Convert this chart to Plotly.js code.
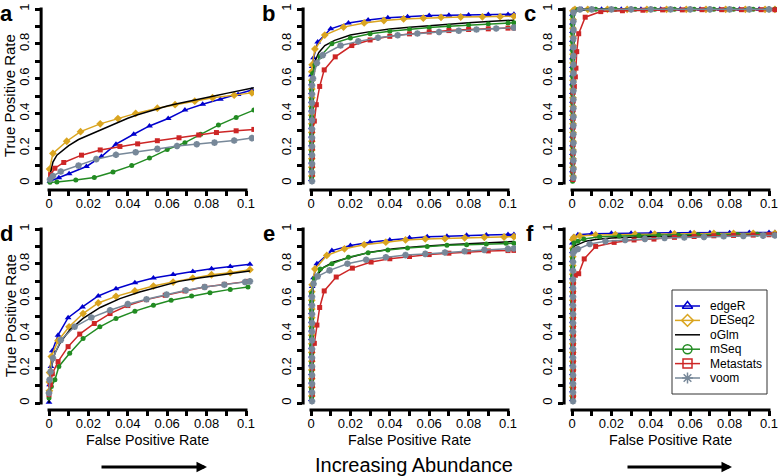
<!DOCTYPE html>
<html><head><meta charset="utf-8">
<script src="https://cdn.plot.ly/plotly-3.0.1.min.js"></script>
<style>html,body{margin:0;padding:0;background:#fff}#chart{width:778px;height:476px}</style>
</head><body><div id="chart"></div>
<script>
// ---------- series meta ----------
const seriesNames = ['edgeR','DESeq2','oGlm','mSeq','Metastats','voom'];
const seriesColors = ['#0000CD','#DAA520','#000000','#228B22','#CD2626','#778899'];
const plotSymbols = ['triangle-up','diamond',null,'circle','square','asterisk-open'];
const legendSymbols = ['triangle-up-open','diamond-open',null,'circle-open','square-open','asterisk-open'];
const panelLetters = ['a','b','c','d','e','f'];

// ---------- panel a ----------
const a_edgeR_fpr = [0.0005,0.005,0.0102,0.019,0.0266,0.034,0.043,0.051,0.0605,0.069,0.078,0.087,0.096,0.103];
const a_edgeR_tpr = [0.01,0.03,0.053,0.095,0.152,0.223,0.28,0.328,0.371,0.419,0.453,0.482,0.508,0.535];
const a_DESeq2_fpr = [0.0003,0.002,0.009,0.016,0.026,0.035,0.044,0.055,0.064,0.074,0.083,0.094,0.103];
const a_DESeq2_tpr = [0.08,0.17,0.24,0.295,0.34,0.37,0.40,0.43,0.45,0.47,0.49,0.505,0.518];
const a_oGlm_fpr = [0.0008,0.002,0.004,0.007,0.01,0.015,0.02,0.025,0.03,0.035,0.04,0.045,0.05,0.055,0.06,0.065,0.07,0.075,0.08,0.085,0.09,0.095,0.1,0.104];
const a_oGlm_tpr = [0.06,0.12,0.16,0.19,0.215,0.25,0.275,0.30,0.325,0.35,0.372,0.392,0.41,0.427,0.442,0.455,0.468,0.48,0.492,0.503,0.515,0.527,0.538,0.547];
const a_mSeq_fpr = [0.0005,0.004,0.0136,0.023,0.0325,0.042,0.051,0.06,0.069,0.077,0.086,0.095,0.104];
const a_mSeq_tpr = [0.004,0.006,0.017,0.032,0.063,0.10,0.143,0.192,0.232,0.28,0.333,0.377,0.419];
const a_Metastats_fpr = [0.0008,0.003,0.0075,0.0165,0.026,0.036,0.045,0.055,0.066,0.076,0.085,0.095,0.104];
const a_Metastats_tpr = [0.048,0.085,0.118,0.16,0.19,0.21,0.225,0.243,0.26,0.276,0.29,0.30,0.308];
const a_voom_fpr = [0.0005,0.002,0.006,0.015,0.024,0.034,0.044,0.055,0.065,0.075,0.084,0.094,0.103];
const a_voom_tpr = [0.02,0.04,0.066,0.10,0.137,0.162,0.177,0.196,0.213,0.223,0.232,0.244,0.258];

// ---------- panel b ----------
const b_edgeR_fpr = [0.0002,0.0002,0.0002,0.0002,0.0002,0.0002,0.0002,0.0002,0.0002,0.0002,0.0002,0.0002,0.0002,0.0006,0.0013,0.0034,0.01,0.019,0.029,0.039,0.049,0.06,0.07,0.08,0.09,0.1,0.103];
const b_edgeR_tpr = [0.02,0.07,0.12,0.17,0.22,0.27,0.32,0.37,0.42,0.47,0.52,0.57,0.62,0.67,0.72,0.81,0.886,0.92,0.937,0.949,0.956,0.962,0.964,0.966,0.968,0.969,0.97];
const b_DESeq2_fpr = [0.0004,0.0004,0.0004,0.0004,0.0004,0.0004,0.0004,0.0004,0.0004,0.0004,0.0004,0.0004,0.0004,0.0006,0.002,0.007,0.0165,0.027,0.037,0.047,0.057,0.066,0.076,0.087,0.096,0.103];
const b_DESeq2_tpr = [0.04,0.09,0.14,0.19,0.24,0.29,0.34,0.39,0.44,0.49,0.54,0.59,0.64,0.68,0.77,0.85,0.896,0.92,0.934,0.943,0.947,0.952,0.954,0.955,0.956,0.958];
const b_oGlm_fpr = [0,0.0002,0.0005,0.001,0.002,0.004,0.007,0.012,0.02,0.03,0.04,0.05,0.06,0.07,0.08,0.09,0.1,0.103];
const b_oGlm_tpr = [0,0.3,0.52,0.62,0.7,0.75,0.79,0.82,0.85,0.87,0.885,0.895,0.905,0.914,0.921,0.928,0.934,0.936];
const b_mSeq_fpr = [0.0003,0.0003,0.0003,0.0003,0.0003,0.0003,0.0003,0.0003,0.0003,0.0003,0.0003,0.0003,0.0008,0.002,0.0045,0.0106,0.02,0.03,0.04,0.05,0.06,0.07,0.08,0.09,0.1,0.103];
const b_mSeq_tpr = [0.03,0.08,0.13,0.18,0.23,0.28,0.33,0.38,0.43,0.48,0.53,0.58,0.63,0.68,0.725,0.8,0.833,0.858,0.872,0.884,0.893,0.901,0.908,0.914,0.92,0.921];
const b_Metastats_fpr = [0.0007,0.0007,0.0007,0.0007,0.0007,0.0007,0.0017,0.0027,0.0044,0.0067,0.0123,0.0207,0.03,0.04,0.05,0.06,0.07,0.08,0.09,0.1,0.103];
const b_Metastats_tpr = [0.05,0.1,0.15,0.2,0.25,0.3,0.356,0.45,0.555,0.65,0.725,0.79,0.822,0.843,0.857,0.868,0.876,0.882,0.886,0.89,0.891];
const b_voom_fpr = [0.0005,0.0005,0.0005,0.0005,0.0005,0.0005,0.0005,0.0005,0.0005,0.0005,0.0005,0.0005,0.001,0.003,0.006,0.015,0.024,0.034,0.044,0.054,0.065,0.075,0.084,0.094,0.103];
const b_voom_tpr = [0.01,0.06,0.11,0.16,0.21,0.26,0.31,0.36,0.41,0.46,0.51,0.56,0.6,0.69,0.735,0.79,0.814,0.835,0.849,0.859,0.868,0.875,0.882,0.888,0.893];

// ---------- panel c ----------
const c_edgeR_fpr = [0.0002,0.0002,0.0002,0.0002,0.0002,0.0002,0.0002,0.0002,0.0002,0.0002,0.0002,0.0002,0.0002,0.0002,0.0002,0.0002,0.0002,0.0002,0.0002,0.0002,0.001,0.005,0.015,0.025,0.035,0.045,0.055,0.065,0.075,0.085,0.095,0.103];
const c_edgeR_tpr = [0.02,0.07,0.12,0.17,0.22,0.27,0.32,0.37,0.42,0.47,0.52,0.57,0.62,0.67,0.72,0.77,0.82,0.87,0.92,0.97,0.997,0.998,0.998,0.998,0.998,0.998,0.998,0.998,0.998,0.998,0.998,0.998];
const c_DESeq2_fpr = [0.0005,0.0005,0.0005,0.0005,0.0005,0.0005,0.0005,0.0005,0.0005,0.0005,0.0005,0.0005,0.0005,0.0005,0.0005,0.0005,0.0005,0.0005,0.0005,0.0005,0.0015,0.008,0.018,0.028,0.038,0.048,0.058,0.068,0.078,0.088,0.098,0.103];
const c_DESeq2_tpr = [0.04,0.09,0.14,0.19,0.24,0.29,0.34,0.39,0.44,0.49,0.54,0.59,0.64,0.69,0.74,0.79,0.84,0.89,0.94,0.99,0.997,0.998,0.998,0.998,0.998,0.998,0.998,0.998,0.998,0.998,0.998,0.998];
const c_oGlm_fpr = [0,0.0003,0.001,0.003,0.01,0.05,0.103];
const c_oGlm_tpr = [0,0.9,0.99,0.996,0.998,0.998,0.998];
const c_mSeq_fpr = [0.0003,0.0003,0.0003,0.0003,0.0003,0.0003,0.0003,0.0003,0.0003,0.0003,0.0003,0.0003,0.0003,0.0003,0.0003,0.0003,0.0003,0.0003,0.0003,0.0003,0.003,0.012,0.022,0.032,0.042,0.052,0.062,0.072,0.082,0.092,0.103];
const c_mSeq_tpr = [0.01,0.06,0.11,0.16,0.21,0.26,0.31,0.36,0.41,0.46,0.51,0.56,0.61,0.66,0.71,0.76,0.81,0.86,0.91,0.96,0.997,0.998,0.998,0.998,0.998,0.998,0.998,0.998,0.998,0.998,0.998];
const c_Metastats_fpr = [0.0005,0.0005,0.0005,0.0005,0.0005,0.0005,0.0005,0.0005,0.0005,0.0005,0.0005,0.0012,0.0017,0.002,0.0024,0.0034,0.0067,0.0146,0.0256,0.036,0.046,0.056,0.066,0.076,0.086,0.096,0.103];
const c_Metastats_tpr = [0.02,0.07,0.12,0.17,0.22,0.27,0.32,0.37,0.42,0.47,0.52,0.555,0.61,0.66,0.755,0.858,0.953,0.985,0.99,0.993,0.995,0.995,0.996,0.996,0.996,0.996,0.996];
const c_voom_fpr = [0.0007,0.0007,0.0007,0.0007,0.0007,0.0007,0.0007,0.0007,0.0007,0.0007,0.0007,0.0007,0.0007,0.0007,0.0007,0.0007,0.0007,0.0007,0.0007,0.0007,0.004,0.01,0.02,0.03,0.04,0.05,0.06,0.07,0.08,0.09,0.1];
const c_voom_tpr = [0.03,0.08,0.13,0.18,0.23,0.28,0.33,0.38,0.43,0.48,0.53,0.58,0.63,0.68,0.73,0.78,0.83,0.88,0.93,0.98,0.997,0.998,0.998,0.998,0.998,0.998,0.998,0.998,0.998,0.998,0.998];

// ---------- panel d ----------
const d_edgeR_fpr = [0,0.0003,0.001,0.0017,0.0046,0.0097,0.017,0.025,0.034,0.0436,0.053,0.063,0.073,0.0825,0.092,0.102];
const d_edgeR_tpr = [0.005,0.105,0.21,0.3,0.39,0.49,0.552,0.615,0.657,0.691,0.718,0.739,0.756,0.771,0.785,0.798];
const d_DESeq2_fpr = [0.0002,0.0002,0.0003,0.0012,0.0046,0.0102,0.0173,0.025,0.034,0.0436,0.053,0.063,0.073,0.0825,0.092,0.102];
const d_DESeq2_tpr = [0.07,0.12,0.175,0.267,0.358,0.438,0.514,0.575,0.613,0.644,0.672,0.695,0.718,0.737,0.749,0.766];
const d_oGlm_fpr = [0,0.0004,0.0008,0.003,0.006,0.0105,0.0173,0.026,0.036,0.046,0.056,0.066,0.077,0.087,0.1,0.102];
const d_oGlm_tpr = [0,0.095,0.19,0.286,0.352,0.419,0.486,0.549,0.6,0.638,0.67,0.699,0.72,0.737,0.756,0.758];
const d_mSeq_fpr = [0,0.0012,0.003,0.005,0.0105,0.0173,0.0258,0.034,0.0436,0.053,0.062,0.0724,0.0817,0.092,0.101];
const d_mSeq_tpr = [0.029,0.095,0.133,0.21,0.286,0.371,0.438,0.486,0.528,0.562,0.59,0.615,0.634,0.653,0.667];
const d_Metastats_fpr = [0,0.0007,0.0017,0.0046,0.0097,0.0156,0.023,0.031,0.04,0.0495,0.059,0.069,0.079,0.089,0.101];
const d_Metastats_tpr = [0.048,0.105,0.168,0.238,0.324,0.396,0.457,0.514,0.56,0.594,0.619,0.644,0.667,0.682,0.699];
const d_voom_fpr = [0,0.0003,0.0008,0.002,0.006,0.013,0.0215,0.031,0.04,0.0495,0.0597,0.0695,0.079,0.089,0.0995,0.102];
const d_voom_tpr = [0.057,0.133,0.18,0.257,0.362,0.438,0.491,0.533,0.568,0.596,0.623,0.648,0.667,0.68,0.695,0.699];

// ---------- panel e ----------
const e_edgeR_fpr = [0.0002,0.0002,0.0002,0.0002,0.0002,0.0002,0.0002,0.0002,0.0002,0.0002,0.0002,0.0002,0.0002,0.0006,0.0013,0.003,0.0106,0.02,0.03,0.04,0.05,0.059,0.069,0.079,0.089,0.1,0.103];
const e_edgeR_tpr = [0.02,0.07,0.12,0.17,0.22,0.27,0.32,0.37,0.42,0.47,0.52,0.57,0.62,0.67,0.72,0.80,0.876,0.905,0.924,0.937,0.949,0.956,0.958,0.964,0.966,0.968,0.968];
const e_DESeq2_fpr = [0.0004,0.0004,0.0004,0.0004,0.0004,0.0004,0.0004,0.0004,0.0004,0.0004,0.0004,0.0004,0.0004,0.0006,0.002,0.008,0.017,0.027,0.038,0.048,0.058,0.068,0.078,0.088,0.098,0.103];
const e_DESeq2_tpr = [0.04,0.09,0.14,0.19,0.24,0.29,0.34,0.39,0.44,0.49,0.54,0.59,0.64,0.68,0.77,0.848,0.886,0.91,0.924,0.937,0.943,0.945,0.949,0.952,0.954,0.956];
const e_oGlm_fpr = [0,0.0002,0.0005,0.001,0.002,0.0064,0.0115,0.02,0.03,0.042,0.055,0.069,0.082,0.096,0.103];
const e_oGlm_tpr = [0,0.3,0.55,0.65,0.72,0.78,0.81,0.838,0.867,0.886,0.9,0.91,0.918,0.924,0.928];
const e_mSeq_fpr = [0.0003,0.0003,0.0003,0.0003,0.0003,0.0003,0.0003,0.0003,0.0003,0.0003,0.0003,0.0003,0.0003,0.0017,0.0047,0.0106,0.019,0.029,0.039,0.049,0.059,0.069,0.079,0.089,0.099,0.103];
const e_mSeq_tpr = [0.03,0.08,0.13,0.18,0.23,0.28,0.33,0.38,0.43,0.48,0.53,0.58,0.63,0.714,0.77,0.8,0.838,0.863,0.88,0.891,0.9,0.907,0.91,0.914,0.918,0.918];
const e_Metastats_fpr = [0.0007,0.0007,0.0007,0.0007,0.0007,0.0007,0.0017,0.003,0.0044,0.0067,0.0128,0.021,0.0305,0.04,0.05,0.06,0.07,0.08,0.09,0.1,0.103];
const e_Metastats_tpr = [0.05,0.1,0.15,0.2,0.25,0.3,0.343,0.448,0.549,0.644,0.724,0.775,0.81,0.829,0.842,0.853,0.861,0.869,0.874,0.876,0.877];
const e_voom_fpr = [0.0005,0.0005,0.0005,0.0005,0.0005,0.0005,0.0005,0.0005,0.0005,0.0005,0.0005,0.0005,0.0005,0.0013,0.0034,0.0094,0.0185,0.028,0.038,0.048,0.058,0.068,0.078,0.088,0.1,0.103];
const e_voom_tpr = [0.01,0.06,0.11,0.16,0.21,0.26,0.31,0.36,0.41,0.46,0.51,0.56,0.61,0.686,0.728,0.762,0.8,0.823,0.838,0.85,0.857,0.865,0.872,0.88,0.886,0.888];

// ---------- panel f ----------
const f_edgeR_fpr = [0.0002,0.0002,0.0002,0.0002,0.0002,0.0002,0.0002,0.0002,0.0002,0.0002,0.0002,0.0002,0.0002,0.0002,0.0002,0.0002,0.0002,0.0002,0.0002,0.0008,0.003,0.01,0.02,0.03,0.04,0.05,0.06,0.07,0.08,0.09,0.1,0.103];
const f_edgeR_tpr = [0.02,0.07,0.12,0.17,0.22,0.27,0.32,0.37,0.42,0.47,0.52,0.57,0.62,0.67,0.72,0.77,0.82,0.87,0.92,0.955,0.967,0.972,0.975,0.976,0.977,0.978,0.978,0.979,0.979,0.98,0.98,0.98];
const f_DESeq2_fpr = [0.0004,0.0004,0.0004,0.0004,0.0004,0.0004,0.0004,0.0004,0.0004,0.0004,0.0004,0.0004,0.0004,0.0004,0.0004,0.0004,0.0004,0.0004,0.0004,0.001,0.004,0.012,0.022,0.032,0.042,0.052,0.062,0.072,0.082,0.092,0.103];
const f_DESeq2_tpr = [0.04,0.09,0.14,0.19,0.24,0.29,0.34,0.39,0.44,0.49,0.54,0.59,0.64,0.69,0.74,0.79,0.84,0.89,0.94,0.952,0.96,0.966,0.968,0.97,0.971,0.972,0.973,0.974,0.974,0.975,0.975];
const f_oGlm_fpr = [0,0.0003,0.0008,0.002,0.004,0.007,0.012,0.02,0.03,0.045,0.06,0.08,0.1,0.103];
const f_oGlm_tpr = [0,0.85,0.9,0.905,0.915,0.93,0.94,0.948,0.953,0.958,0.962,0.965,0.968,0.968];
const f_mSeq_fpr = [0.0003,0.0003,0.0003,0.0003,0.0003,0.0003,0.0003,0.0003,0.0003,0.0003,0.0003,0.0003,0.0003,0.0003,0.0003,0.0003,0.0003,0.0003,0.001,0.003,0.006,0.014,0.024,0.034,0.044,0.054,0.064,0.074,0.084,0.094,0.103];
const f_mSeq_tpr = [0.03,0.08,0.13,0.18,0.23,0.28,0.33,0.38,0.43,0.48,0.53,0.58,0.63,0.68,0.73,0.78,0.83,0.88,0.92,0.93,0.942,0.955,0.96,0.963,0.965,0.966,0.967,0.968,0.969,0.97,0.97];
const f_Metastats_fpr = [0.0007,0.0007,0.0007,0.0007,0.0007,0.0007,0.0007,0.0007,0.0007,0.0007,0.0007,0.0007,0.0007,0.0007,0.0017,0.0034,0.0062,0.012,0.0214,0.0315,0.0416,0.052,0.062,0.072,0.082,0.092,0.1,0.103];
const f_Metastats_tpr = [0.04,0.09,0.14,0.19,0.24,0.29,0.34,0.39,0.44,0.49,0.54,0.59,0.64,0.69,0.734,0.743,0.828,0.9,0.923,0.937,0.942,0.952,0.957,0.961,0.963,0.965,0.967,0.967];
const f_voom_fpr = [0.0005,0.0005,0.0005,0.0005,0.0005,0.0005,0.0005,0.0005,0.0005,0.0005,0.0005,0.0005,0.0005,0.0005,0.0005,0.0005,0.0005,0.0005,0.0013,0.003,0.009,0.017,0.027,0.037,0.047,0.057,0.067,0.077,0.087,0.097,0.103];
const f_voom_tpr = [0.01,0.06,0.11,0.16,0.21,0.26,0.31,0.36,0.41,0.46,0.51,0.56,0.61,0.66,0.71,0.76,0.81,0.86,0.876,0.885,0.914,0.929,0.937,0.943,0.948,0.952,0.955,0.958,0.96,0.962,0.963];

// ---------- assembling ----------
const panels = [
  [[a_edgeR_fpr,a_edgeR_tpr],[a_DESeq2_fpr,a_DESeq2_tpr],[a_oGlm_fpr,a_oGlm_tpr],[a_mSeq_fpr,a_mSeq_tpr],[a_Metastats_fpr,a_Metastats_tpr],[a_voom_fpr,a_voom_tpr]],
  [[b_edgeR_fpr,b_edgeR_tpr],[b_DESeq2_fpr,b_DESeq2_tpr],[b_oGlm_fpr,b_oGlm_tpr],[b_mSeq_fpr,b_mSeq_tpr],[b_Metastats_fpr,b_Metastats_tpr],[b_voom_fpr,b_voom_tpr]],
  [[c_edgeR_fpr,c_edgeR_tpr],[c_DESeq2_fpr,c_DESeq2_tpr],[c_oGlm_fpr,c_oGlm_tpr],[c_mSeq_fpr,c_mSeq_tpr],[c_Metastats_fpr,c_Metastats_tpr],[c_voom_fpr,c_voom_tpr]],
  [[d_edgeR_fpr,d_edgeR_tpr],[d_DESeq2_fpr,d_DESeq2_tpr],[d_oGlm_fpr,d_oGlm_tpr],[d_mSeq_fpr,d_mSeq_tpr],[d_Metastats_fpr,d_Metastats_tpr],[d_voom_fpr,d_voom_tpr]],
  [[e_edgeR_fpr,e_edgeR_tpr],[e_DESeq2_fpr,e_DESeq2_tpr],[e_oGlm_fpr,e_oGlm_tpr],[e_mSeq_fpr,e_mSeq_tpr],[e_Metastats_fpr,e_Metastats_tpr],[e_voom_fpr,e_voom_tpr]],
  [[f_edgeR_fpr,f_edgeR_tpr],[f_DESeq2_fpr,f_DESeq2_tpr],[f_oGlm_fpr,f_oGlm_tpr],[f_mSeq_fpr,f_mSeq_tpr],[f_Metastats_fpr,f_Metastats_tpr],[f_voom_fpr,f_voom_tpr]]
];

const W = 778, H = 476;
const FONT = 'Liberation Sans, Arial, Helvetica, sans-serif';
const X_ORIGIN = [49, 311, 572];   // pixel where fpr = 0 in each column
const Y_ORIGIN = [183, 403];       // pixel where tpr = 0 in each row
const X_SCALE = 1970, Y_SCALE = 174;
const X_RANGE = [-0.004, 0.104], Y_RANGE = [-0.04, 1.04];
const px = p => p / W, py = p => 1 - p / H;

const traces = [], shapes = [], annotations = [];
const layout = {
  width: W, height: H, margin: {l:0, r:0, t:0, b:0}, autosize: false,
  paper_bgcolor: '#ffffff', plot_bgcolor: 'rgba(0,0,0,0)', showlegend: false,
  font: {family: FONT, color: '#000'}
};

panels.forEach((series, i) => {
  const r = Math.floor(i / 3), c = i % 3;
  const left = X_ORIGIN[c] + X_RANGE[0] * X_SCALE, right = X_ORIGIN[c] + X_RANGE[1] * X_SCALE;
  const bottom = Y_ORIGIN[r] - Y_RANGE[0] * Y_SCALE, top = Y_ORIGIN[r] - Y_RANGE[1] * Y_SCALE;
  const s = i === 0 ? '' : String(i + 1);
  const tickFont = {family: FONT, size: 13, color: '#000'};
  layout['xaxis' + s] = {
    domain: [px(left), px(right)], anchor: 'y' + s, range: X_RANGE,
    showgrid: false, zeroline: false, showline: false,
    tickmode: 'linear', tick0: 0, dtick: 0.02,
    ticks: 'outside', ticklen: 5, tickwidth: 3, tickcolor: '#000', tickfont: tickFont,
    ticklabelstandoff: -4, ticklabeloverflow: 'allow',
    minor: {tick0: 0, dtick: 0.01, ticks: 'outside', ticklen: 5, tickwidth: 3, tickcolor: '#000', showgrid: false},
    fixedrange: true
  };
  layout['yaxis' + s] = {
    domain: [py(bottom), py(top)], anchor: 'x' + s, range: Y_RANGE,
    showgrid: false, zeroline: false, showline: false,
    tickmode: 'linear', tick0: 0, dtick: 0.2, tickangle: -90,
    ticks: 'outside', ticklen: 5, tickwidth: 3, tickcolor: '#000', tickfont: tickFont,
    ticklabelstandoff: 1, ticklabeloverflow: 'allow',
    minor: {tick0: 0, dtick: 0.1, ticks: 'outside', ticklen: 5, tickwidth: 3, tickcolor: '#000', showgrid: false},
    fixedrange: true
  };
  // R-style detached axis lines spanning the tick range only
  shapes.push({type: 'line', xref: 'paper', yref: 'paper',
    x0: px(left), x1: px(left), y0: py(Y_ORIGIN[r] + 1.5), y1: py(Y_ORIGIN[r] - Y_SCALE - 1.5),
    line: {color: '#000', width: 3}});
  shapes.push({type: 'line', xref: 'paper', yref: 'paper',
    x0: px(X_ORIGIN[c] - 1.5), x1: px(X_ORIGIN[c] + 0.1 * X_SCALE + 1.5), y0: py(bottom), y1: py(bottom),
    line: {color: '#000', width: 3}});

  series.forEach(([fpr, tpr], k) => {
    const sym = plotSymbols[k];
    const t = {
      type: 'scatter', x: fpr, y: tpr, xaxis: 'x' + s, yaxis: 'y' + s,
      name: seriesNames[k], mode: sym ? 'lines+markers' : 'lines',
      line: {color: seriesColors[k], width: 1.5}, cliponaxis: true, hoverinfo: 'skip'
    };
    if (sym) {
      const isAst = sym.indexOf('asterisk') === 0;
      t.marker = {symbol: sym, size: isAst ? 5.5 : (sym === 'diamond' ? 6 : (sym === 'triangle-up' ? 6 : 5)),
        color: seriesColors[k], line: {color: seriesColors[k], width: isAst ? 2 : 0}};
    }
    traces.push(t);
  });

  // panel letter
  annotations.push({xref: 'paper', yref: 'paper', x: px([6.7, 268.8, 529.5][c]), y: py([13, 233][r]),
    text: panelLetters[i], showarrow: false, xanchor: 'center', yanchor: 'middle',
    font: {family: FONT, size: 22, weight: 'bold', color: '#000'}});
  if (c === 0) {
    annotations.push({xref: 'paper', yref: 'paper', x: px(10), y: py(Y_ORIGIN[r] - Y_SCALE / 2),
      text: 'True Positive Rate', textangle: -90, showarrow: false, xanchor: 'center', yanchor: 'middle',
      font: {family: FONT, size: 15, color: '#000'}});
  }
  if (r === 1) {
    annotations.push({xref: 'paper', yref: 'paper', x: px(X_ORIGIN[c] + 0.05 * X_SCALE), y: py(440),
      text: 'False Positive Rate', showarrow: false, xanchor: 'center', yanchor: 'middle',
      font: {family: FONT, size: 14.3, color: '#000'}});
  }
});

// bottom caption and arrows
annotations.push({xref: 'paper', yref: 'paper', x: px(414), y: py(465), text: 'Increasing Abundance',
  showarrow: false, xanchor: 'center', yanchor: 'middle', font: {family: FONT, size: 20, color: '#000'}});
[[100, 207], [626, 732]].forEach(([x0, x1]) => {
  annotations.push({xref: 'paper', yref: 'paper', axref: 'paper', ayref: 'paper',
    x: px(x1), y: py(467), ax: px(x0), ay: py(467), text: '', showarrow: true,
    arrowhead: 2, arrowsize: 0.7, arrowwidth: 3, arrowcolor: '#000', standoff: 0});
});

// legend drawn on a full-figure overlay axis measured in pixels
layout.xaxis7 = {domain: [0, 1], range: [0, W], anchor: 'y7', visible: false, fixedrange: true};
layout.yaxis7 = {domain: [0, 1], range: [H, 0], anchor: 'x7', visible: false, fixedrange: true};
const LEG = {x0: 672, x1: 767, y0: 290, y1: 394, rowTop: 306, rowStep: 14.4, lineX0: 675, lineX1: 700, textX: 708};
shapes.push({type: 'rect', xref: 'paper', yref: 'paper', x0: px(LEG.x0), x1: px(LEG.x1), y0: py(LEG.y1), y1: py(LEG.y0),
  line: {color: '#333', width: 1}, fillcolor: 'rgba(255,255,255,0)'});
seriesNames.forEach((name, k) => {
  const yy = LEG.rowTop + k * LEG.rowStep;
  traces.push({type: 'scatter', x: [LEG.lineX0, LEG.lineX1], y: [yy, yy], xaxis: 'x7', yaxis: 'y7',
    mode: 'lines', line: {color: seriesColors[k], width: 1.5}, hoverinfo: 'skip'});
  if (legendSymbols[k]) {
    traces.push({type: 'scatter', x: [(LEG.lineX0 + LEG.lineX1) / 2], y: [yy], xaxis: 'x7', yaxis: 'y7',
      mode: 'markers', marker: {symbol: legendSymbols[k], size: 9, color: seriesColors[k],
        line: {color: seriesColors[k], width: 1.5}}, hoverinfo: 'skip'});
  }
  annotations.push({xref: 'paper', yref: 'paper', x: px(LEG.textX), y: py(yy), text: name, showarrow: false,
    xanchor: 'left', yanchor: 'middle', font: {family: FONT, size: 12, color: '#000'}});
});

layout.shapes = shapes;
layout.annotations = annotations;
Plotly.newPlot('chart', traces, layout, {displayModeBar: false, staticPlot: true});
</script>
</body></html>
